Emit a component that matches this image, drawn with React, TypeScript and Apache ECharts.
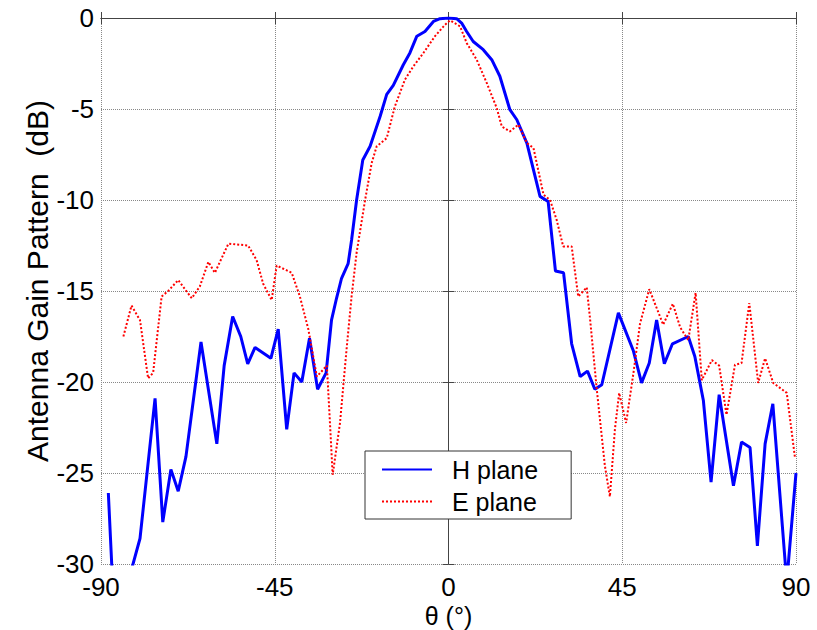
import React, { useEffect, useRef } from "react";
import * as echarts from "echarts";

const hTheta = [
  -88.1, -87.0, -83.0, -79.9, -76.0, -74.0, -71.9, -70.0, -68.0, -64.1, -60.0, -58.1, -55.9, -53.8,
  -52.0, -50.1, -46.0, -44.1, -41.9, -40.0, -38.0, -36.0, -33.9, -31.7, -30.3, -29.0, -27.7, -26.0,
  -25.1, -23.8, -22.2, -20.3, -17.7, -16.0, -14.3, -11.7, -10.0, -8.2, -6.1, -3.9, -2.2, 0, 2.1, 3.4,
  4.7, 6.4, 9.0, 11.2, 13.3, 15.9, 17.7, 20.3, 23.7, 25.8, 27.7, 29.8, 31.9, 34.1, 36.0, 37.9, 39.7,
  44.0, 47.9, 50.0, 52.0, 53.9, 55.9, 58.0, 62.1, 63.8, 66.0, 68.0, 70.1, 73.8, 75.9, 78.1, 80.0,
  82.0, 84.0, 87.6, 90.0,
];
const hGain = [
  -26.1, -31, -31, -28.6, -20.9, -27.7, -24.8, -26.0, -24.1, -17.8, -23.4, -19.1, -16.4, -17.5,
  -19.0, -18.1, -18.7, -17.1, -22.6, -19.5, -20.0, -17.6, -20.4, -19.5, -16.6, -15.4, -14.3, -13.5,
  -12.2, -10.0, -7.8, -7.05, -5.4, -4.2, -3.7, -2.57, -1.92, -1.0, -0.74, -0.19, -0.04, 0, -0.04,
  -0.28, -0.74, -1.29, -1.74, -2.29, -3.2, -5.04, -5.59, -6.87, -9.8, -10.08, -13.9, -14.0, -17.9,
  -19.7, -19.4, -20.4, -20.15, -16.2, -18.3, -20.05, -18.96, -16.6, -19.0, -17.9, -17.5, -18.6,
  -21.0, -25.5, -20.7, -25.7, -23.3, -23.6, -29.0, -23.4, -21.2, -31, -25.0,
];

const eTheta = [
  -84.2, -82.1, -79.9, -77.8, -76.5, -74.3, -72.6, -70.0, -66.5, -64.4, -62.2, -60.5, -59.2, -57.0,
  -51.9, -49.7, -48.0, -45.8, -44.5, -40.6, -38.5, -36.3, -34.1, -31.5, -30.7, -30.0, -28.1, -26.4,
  -25.1, -23.8, -21.6, -19.9, -18.6, -16.0, -13.9, -11.3, -9.1, -6.5, -3.5, -0.9, 0.4, 3.0, 4.7, 7.3,
  9.9, 12.5, 13.8, 15.9, 18.1, 20.3, 22.0, 24.6, 26.3, 28.0, 29.7, 31.9, 33.6, 34.5, 35.8, 36.6,
  38.4, 40.5, 41.8, 43.1, 44.2, 46.0, 47.9, 49.6, 52.0, 55.6, 58.1, 60.0, 62.1, 64.0, 65.6, 68.2,
  70.1, 72.0, 74.2, 75.9, 77.9, 80.2, 82.0, 84.1, 87.6, 89.7,
];
const eGain = [
  -17.5, -15.8, -16.6, -19.8, -19.5, -15.3, -15.0, -14.4, -15.4, -14.75, -13.4, -14.0, -13.4, -12.4,
  -12.5, -13.3, -14.6, -15.5, -13.6, -14.0, -15.3, -17.1, -19.7, -19.1, -22.25, -25.1, -22.25, -18.2,
  -15.3, -12.9, -10.0, -7.97, -7.05, -6.6, -4.86, -3.39, -2.66, -1.92, -1.0, -0.37, -0.13, -0.46,
  -1.37, -2.29, -3.57, -4.95, -5.96, -6.23, -5.86, -6.87, -7.14, -9.7, -10.0, -11.08, -12.55, -12.55,
  -15.3, -15.1, -14.8, -16.4, -20.4, -24.6, -26.3, -22.6, -20.6, -22.25, -19.5, -16.8, -14.9, -16.85,
  -15.7, -17.0, -17.7, -15.1, -19.9, -18.8, -19.1, -21.8, -19.05, -18.96, -15.66, -20.05, -18.7,
  -20.05, -20.6, -24.1,
];

const seriesNames = ["H plane", "E plane"];
const xTitle = "θ (°)";
const yTitle = "Antenna Gain Pattern  (dB)";

const FONT = "'Liberation Sans', Arial, sans-serif";

export default function App() {
  const ref = useRef<HTMLDivElement>(null);
  useEffect(() => {
    document.body.style.margin = "0";
    if (!ref.current) return;
    const chart = echarts.init(ref.current, undefined, { renderer: "svg" });
    const axisLine = { show: true, lineStyle: { color: "#444", width: 1 } };
    const tick = { show: true, inside: true, length: 6, lineStyle: { color: "#444" } };
    chart.setOption({
      animation: false,
      backgroundColor: "#fff",
      textStyle: { fontFamily: FONT },
      grid: { left: 101, right: 21, top: 18, bottom: 66, containLabel: false, outerBoundsMode: "none" },
      legend: {
        data: seriesNames,
        orient: "vertical",
        left: 365,
        top: 451,
        itemWidth: 50,
        itemHeight: 14,
        itemGap: 7,
        padding: [6, 33, 5, 16],
        borderColor: "#333",
        borderWidth: 1,
        backgroundColor: "#fff",
        itemStyle: { opacity: 0 },
        formatter: (name: string) => `{g|}${name}`,
        textStyle: {
          fontSize: 25,
          lineHeight: 24,
          color: "#000",
          fontFamily: FONT,
          rich: { g: { width: 15 } },
        },
      },
      xAxis: [
        {
          type: "value",
          min: -90,
          max: 90,
          interval: 45,
          position: "bottom",
          axisLine,
          axisTick: tick,
          axisLabel: { fontSize: 26, color: "#000", margin: 10, fontFamily: FONT },
          splitLine: { show: true, lineStyle: { color: "#888", type: "dotted", width: 1 } },
          name: xTitle,
          nameLocation: "middle",
          nameGap: 40,
          nameMoveOverlap: false,
          nameTextStyle: { fontSize: 25, lineHeight: 24, color: "#000", fontFamily: FONT },
        },
        {
          type: "value",
          min: -90,
          max: 90,
          interval: 45,
          position: "top",
          axisLine,
          axisTick: tick,
          axisLabel: { show: false },
          splitLine: { show: false },
        },
      ],
      yAxis: [
        {
          type: "value",
          min: -30,
          max: 0,
          interval: 5,
          position: "left",
          axisLine,
          axisTick: tick,
          axisLabel: { fontSize: 26, color: "#000", margin: 7, fontFamily: FONT },
          splitLine: { show: true, lineStyle: { color: "#888", type: "dotted", width: 1 } },
          name: yTitle,
          nameLocation: "middle",
          nameGap: 49,
          nameMoveOverlap: false,
          nameTextStyle: { fontSize: 30, color: "#000", fontFamily: FONT, padding: [0, 0, 0, 20] },
        },
        {
          type: "value",
          min: -30,
          max: 0,
          interval: 5,
          position: "right",
          axisLine,
          axisTick: tick,
          axisLabel: { show: false },
          splitLine: { show: false },
        },
      ],
      series: [
        {
          name: seriesNames[0],
          type: "line",
          xAxisIndex: 0,
          yAxisIndex: 0,
          symbol: "none",
          clip: true,
          lineStyle: { color: "#0000ff", width: 3 },
          itemStyle: { color: "#0000ff" },
          data: hTheta.map((t, i) => [t, hGain[i]]),
        },
        {
          name: seriesNames[1],
          type: "line",
          xAxisIndex: 0,
          yAxisIndex: 0,
          symbol: "none",
          clip: true,
          lineStyle: { color: "#ff0000", width: 2, type: "dotted" },
          itemStyle: { color: "#ff0000" },
          data: eTheta.map((t, i) => [t, eGain[i]]),
        },
      ],
    });
    return () => chart.dispose();
  }, []);
  return <div ref={ref} style={{ width: 817, height: 630 }} />;
}
